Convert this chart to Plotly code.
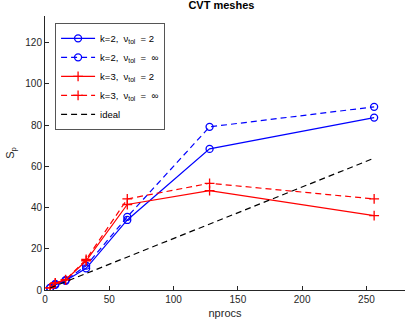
import plotly.graph_objects as go

# speedup data
nprocs = [4, 8, 16, 32, 64, 128, 256]
k2_nu2 = [1, 2.5, 4.5, 10.5, 34, 68.5, 83.7]
k2_inf = [1, 3, 4.8, 11.8, 35.5, 79.2, 88.9]
k3_nu2 = [1, 3.3, 4.9, 14.2, 41.5, 48.2, 36.1]
k3_inf = [1, 3.5, 5.0, 14.8, 44.2, 51.8, 44.2]
ideal = [n / 4 for n in nprocs]

fig = go.Figure()

series = [
    (k2_nu2, "k=2,  \u03bd<sub>tol</sub>  = 2", "#0000ff", "solid", "circle-open"),
    (k2_inf, "k=2,  \u03bd<sub>tol</sub>  =  \u221e", "#0000ff", "6px,4px", "circle-open"),
    (k3_nu2, "k=3,  \u03bd<sub>tol</sub>  = 2", "#ff0000", "solid", "cross-thin-open"),
    (k3_inf, "k=3,  \u03bd<sub>tol</sub>  =  \u221e", "#ff0000", "6px,4px", "cross-thin-open"),
]
for y, name, color, dash, sym in series:
    fig.add_trace(go.Scatter(
        x=nprocs, y=y, name=name, mode="lines+markers",
        line=dict(color=color, width=1.2, dash=dash),
        marker=dict(symbol=sym, size=7, color=color, line=dict(width=1.3, color=color)),
    ))

fig.add_trace(go.Scatter(
    x=nprocs, y=ideal, name="ideal", mode="lines",
    line=dict(color="#000000", width=1.2, dash="6px,4px"),
))

fig.update_layout(
    width=407, height=324,
    margin=dict(l=45, r=2, t=16, b=34),
    paper_bgcolor="white", plot_bgcolor="white",
    font=dict(family="Liberation Sans, Arial, sans-serif", size=10, color="#262626"),
    title=dict(text="<b>CVT meshes</b>", xref="paper", x=0.49, xanchor="center",
               yref="container", y=0.997, yanchor="top",
               font=dict(size=11, color="#000000")),
    legend=dict(x=0.028, y=0.975, xanchor="left", yanchor="top",
                bgcolor="white", bordercolor="#555555", borderwidth=1,
                font=dict(size=9.5, color="#000000"), tracegroupgap=0,
                itemwidth=34, entrywidth=62),
    showlegend=True,
)

fig.update_xaxes(
    range=[0, 280], tickvals=[0, 50, 100, 150, 200, 250],
    showline=True, linecolor="#262626", linewidth=1,
    ticks="inside", ticklen=4, tickcolor="#262626",
    showgrid=False, zeroline=False,
    title=dict(text="nprocs", standoff=5, font=dict(size=11)),
)
fig.update_yaxes(
    range=[0, 133], tickvals=[0, 20, 40, 60, 80, 100, 120],
    showline=True, linecolor="#262626", linewidth=1,
    ticks="inside", ticklen=4, tickcolor="#262626",
    showgrid=False, zeroline=False,
    title=dict(text="S<sub>p</sub>", standoff=8, font=dict(size=11)),
)

fig.write_html("out.html", config={"displayModeBar": False},
               post_script="document.body.style.margin='0';")
